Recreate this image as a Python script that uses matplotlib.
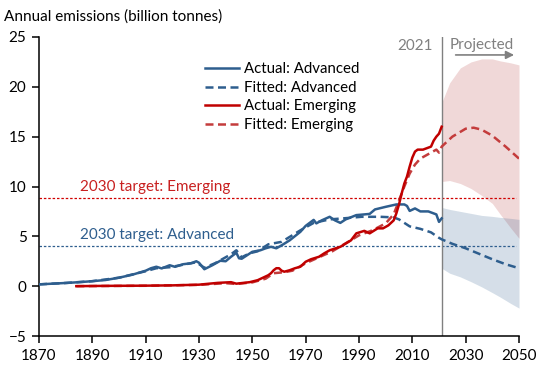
import numpy as np
from matplotlib import pyplot as plt

# ---- data (billion tonnes) ----
adv_years = [1870, 1875, 1880, 1885, 1890, 1895, 1900, 1905, 1910, 1912, 1914, 1916, 1919,
             1921, 1924, 1927, 1929, 1930, 1932, 1935, 1938, 1940, 1942, 1944, 1945, 1946,
             1948, 1950, 1953, 1955, 1957, 1959, 1961, 1964, 1968, 1970, 1973, 1974, 1976,
             1979, 1981, 1983, 1985, 1989, 1992, 1994, 1996, 2000, 2004, 2007, 2008, 2009,
             2011, 2013, 2016, 2018, 2019, 2020, 2021]
adv_actual = [0.18, 0.25, 0.32, 0.40, 0.50, 0.62, 0.85, 1.15, 1.55, 1.80, 1.95, 1.78, 2.10,
              1.94, 2.20, 2.30, 2.50, 2.35, 1.70, 2.10, 2.55, 2.50, 2.95, 3.35, 2.80, 2.75,
              3.10, 3.45, 3.60, 3.80, 3.95, 3.80, 4.10, 4.60, 5.45, 6.05, 6.65, 6.30, 6.60,
              6.96, 6.60, 6.35, 6.70, 7.13, 7.20, 7.25, 7.70, 7.96, 8.20, 8.20, 8.05, 7.55,
              7.80, 7.50, 7.50, 7.30, 7.20, 6.45, 6.80]

adv_fit_years = [1870, 1880, 1890, 1900, 1910, 1914, 1919, 1924, 1929, 1932, 1936, 1940, 1942,
                 1944, 1946, 1949, 1952, 1956, 1961, 1968, 1973, 1979, 1984, 1991, 1998,
                 2003, 2005, 2009, 2013, 2017, 2020, 2021,
                 2025, 2030, 2035, 2040, 2045, 2050]
adv_fit = [0.18, 0.32, 0.50, 0.85, 1.50, 1.80, 1.90, 2.15, 2.40, 1.85, 2.30, 2.90, 3.20,
           3.60, 2.90, 3.30, 3.50, 4.20, 4.45, 5.60, 6.35, 6.70, 6.80, 6.96, 6.96,
           6.90, 6.70, 6.00, 5.75, 5.40, 4.85, 4.70,
           4.25, 3.80, 3.25, 2.70, 2.20, 1.80]

emg_years = [1884, 1895, 1910, 1920, 1930, 1937, 1942, 1944, 1949, 1952, 1954, 1956, 1957,
             1958, 1959, 1960, 1961, 1962, 1964, 1966, 1968, 1970, 1972, 1975, 1977, 1979,
             1983, 1987, 1989, 1992, 1994, 1997, 1999, 2001, 2003, 2004, 2005, 2006, 2007,
             2008, 2009, 2010, 2011, 2012, 2014, 2015, 2016, 2017, 2018, 2019, 2020, 2021]
emg_actual = [0.0, 0.03, 0.05, 0.08, 0.15, 0.33, 0.40, 0.25, 0.40, 0.60, 0.85, 1.10, 1.30,
              1.60, 1.80, 1.80, 1.55, 1.45, 1.60, 1.80, 1.95, 2.45, 2.70, 2.95, 3.30, 3.60,
              3.95, 4.60, 5.30, 5.55, 5.30, 5.80, 5.80, 6.10, 6.60, 7.30, 8.20, 9.30, 10.30,
              11.00, 12.00, 12.90, 13.50, 13.70, 13.70, 13.80, 13.90, 14.00, 14.60, 15.00,
              15.30, 16.00]

emg_fit_years = [1884, 1910, 1930, 1940, 1944, 1950, 1955, 1958, 1962, 1965, 1970, 1975,
                 1980, 1985, 1990, 1995, 2000, 2003, 2005, 2007, 2009, 2011, 2013, 2015,
                 2017, 2019, 2020, 2021,
                 2025, 2030, 2033, 2036, 2040, 2045, 2050]
emg_fit = [0.0, 0.04, 0.13, 0.30, 0.22, 0.38, 0.75, 1.30, 1.40, 1.55, 2.30, 2.90,
           3.50, 4.30, 5.10, 5.60, 6.30, 7.20, 8.60, 10.00, 11.30, 12.20, 12.80, 13.10,
           13.40, 13.70, 13.40, 14.00,
           15.00, 15.80, 15.90, 15.70, 15.10, 14.00, 12.80]

band_years = [2021, 2024, 2028, 2032, 2036, 2040, 2043, 2047, 2050]
emg_hi = [18.4, 20.4, 21.9, 22.5, 22.8, 22.8, 22.6, 22.4, 22.2]
emg_lo = [10.5, 10.6, 10.3, 9.8, 9.1, 8.3, 7.2, 5.8, 4.8]
adv_hi = [7.9, 7.7, 7.5, 7.3, 7.1, 7.0, 6.9, 6.8, 6.7]
adv_lo = [1.8, 1.3, 0.93, 0.45, -0.07, -0.65, -1.1, -1.75, -2.2]

target_emerging = 8.8
target_advanced = 4.0

blue = '#2E5E8E'
red = '#C00000'
red_fit = '#C43C3C'
gray = '#808080'

plt.rcParams['font.family'] = ['Lato', 'DejaVu Sans']
plt.rcParams['font.size'] = 11

fig = plt.figure(figsize=(5.5, 3.65), dpi=100)
ax = fig.add_axes([39/550, 1 - 336/365, 480/550, 299/365])

ax.fill_between(band_years, emg_lo, emg_hi, color='#B83C3C', alpha=0.2, lw=0, zorder=1)
ax.fill_between(band_years, adv_lo, adv_hi, color=blue, alpha=0.2, lw=0, zorder=1)

ax.plot([1870, 2049], [target_emerging]*2, color='#D00000', lw=0.9, dashes=(2, 1.5), zorder=2)
ax.plot([1870, 2049], [target_advanced]*2, color=blue, lw=0.9, dashes=(2, 1.5), zorder=2)

ax.axvline(2021, color=gray, lw=1.0, zorder=2)

l1, = ax.plot(adv_years, adv_actual, color=blue, lw=1.8, zorder=4, label='Actual: Advanced')
l2, = ax.plot(adv_fit_years, adv_fit, color=blue, lw=1.8, dashes=(3.2, 1.8), zorder=3,
              label='Fitted: Advanced')
l3, = ax.plot(emg_years, emg_actual, color=red, lw=1.8, zorder=4, label='Actual: Emerging')
l4, = ax.plot(emg_fit_years, emg_fit, color=red_fit, lw=1.8, dashes=(3.2, 1.8), zorder=3,
              label='Fitted: Emerging')

fig.legend(handles=[l1, l2, l3, l4], loc='upper left', bbox_to_anchor=(0.348, 0.866),
           frameon=False, handlelength=2.3, handletextpad=0.3, labelspacing=0.3,
           fontsize=10.8)

ax.text(1885.4, 10.0, '2030 target: Emerging', color='#C82020', va='center', ha='left')
ax.text(1885.4, 5.1, '2030 target: Advanced', color=blue, va='center', ha='left')
ax.text(2017.6, 24.1, '2021', color=gray, va='center', ha='right')
ax.text(2024.1, 24.2, 'Projected', color=gray, va='center', ha='left')
ax.annotate('', xy=(2049.2, 23.2), xytext=(2025.2, 23.2),
            arrowprops=dict(arrowstyle='-|>', color=gray, lw=1.2, mutation_scale=12))

fig.text(0.007, 0.956, 'Annual emissions (billion tonnes)', va='center', ha='left')

ax.set_xlim(1870, 2050)
ax.set_ylim(-5, 25)
ax.set_xticks(np.arange(1870, 2051, 20))
ax.set_yticks(np.arange(-5, 26, 5))
for s in ['top', 'right']:
    ax.spines[s].set_visible(False)
ax.spines['left'].set_linewidth(1.1)
ax.spines['bottom'].set_linewidth(1.1)
ax.tick_params(direction='out', length=5, width=1.1, labelsize=11, pad=4)

fig.savefig('out.png', dpi=100)
